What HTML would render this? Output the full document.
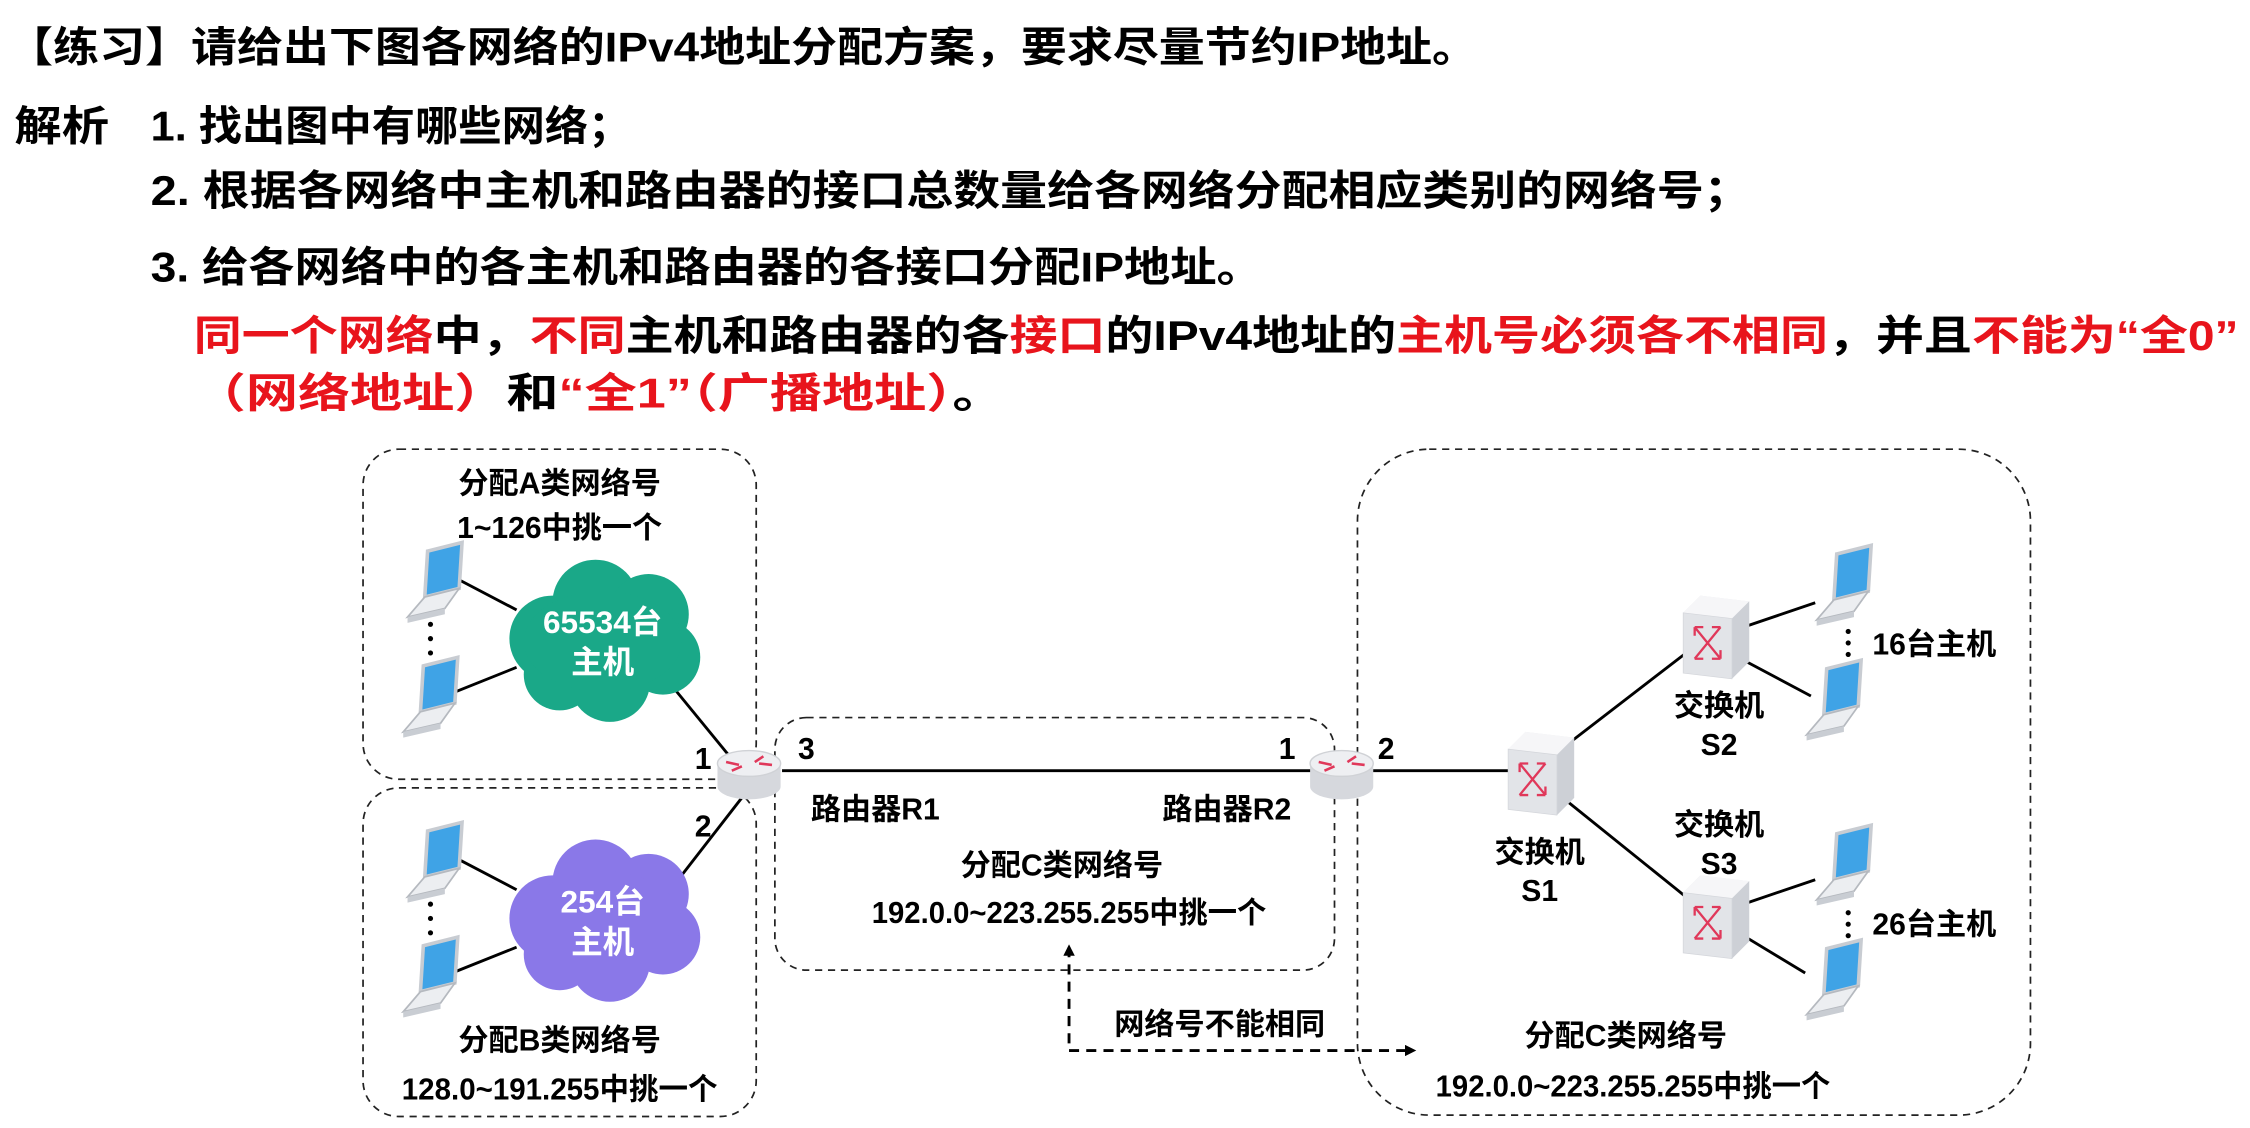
<!DOCTYPE html>
<html><head><meta charset="utf-8"><style>
html,body{margin:0;padding:0;background:#fff;width:2250px;height:1128px;overflow:hidden}
svg{display:block}
text{font-family:"Liberation Sans","Noto Sans CJK SC",sans-serif;font-weight:bold}
</style></head><body>
<svg width="2250" height="1128" viewBox="0 0 1568 786" preserveAspectRatio="none" xmlns="http://www.w3.org/2000/svg">
<defs>
<g id="lap">
  <polygon points="8,-32 32,-38 30,-6 6,0" fill="#3fa3e6" stroke="#c8ccd2" stroke-width="2.5"/>
  <polygon points="6,0 30,-6 20,8 -6,14" fill="#eceef1" stroke="#b5b9bf" stroke-width="1.2"/>
  <polygon points="-6,14 20,8 20,12 -6,18" fill="#c9cdd3"/>
</g>
<g id="sw">
  <polygon points="-22,-18 -10,-30 24,-26 24,16 12,28 -22,24" fill="#e9eaee"/>
  <polygon points="-22,-18 -10,-30 24,-26 12,-14" fill="#f6f6f8"/>
  <polygon points="12,-14 24,-26 24,16 12,28" fill="#cdd0d6"/>
  <polygon points="-22,-18 12,-14 12,28 -22,24" fill="#e2e4e8" stroke="#d4d6db" stroke-width="0.5"/>
  <path d="M-14,-8 L4,14 M-14,14 L4,-8 M-14,-8 l0,6 M-14,-8 l6,0 M4,14 l-6,0 M4,14 l0,-6 M-14,14 l6,0 M4,-8 l-6,0" stroke="#e0385a" stroke-width="1.6" fill="none"/>
</g>
<g id="rt">
  <path d="M-22,-6 L-22,10 A22,9 0 0 0 22,10 L22,-6 Z" fill="#d6d8dd"/>
  <ellipse cx="0" cy="-6" rx="22" ry="9" fill="#eeeff2" stroke="#d0d2d6"/>
  <path d="M-16,-7 l9,2 M-12,-1 l7,-3 M16,-5 l-9,-1 M10,-11 l-6,4" stroke="#e0385a" stroke-width="1.8"/>
</g>
<marker id="ah" markerWidth="8" markerHeight="8" refX="6" refY="4" orient="auto" markerUnits="userSpaceOnUse"><path d="M0,0 L8,4 L0,8 Z" fill="#000"/></marker>
</defs>

<text x="5" y="43" font-size="29" textLength="1025" lengthAdjust="spacingAndGlyphs">【练习】请给出下图各网络的IPv4地址分配方案，要求尽量节约IP地址。</text>
<text x="10" y="98" font-size="29" textLength="66" lengthAdjust="spacingAndGlyphs">解析</text>
<text x="105" y="98" font-size="29" textLength="335" lengthAdjust="spacingAndGlyphs">1. 找出图中有哪些网络；</text>
<text x="105" y="143" font-size="29" textLength="1115" lengthAdjust="spacingAndGlyphs">2. 根据各网络中主机和路由器的接口总数量给各网络分配相应类别的网络号；</text>
<text x="105" y="196" font-size="29" textLength="775" lengthAdjust="spacingAndGlyphs">3. 给各网络中的各主机和路由器的各接口分配IP地址。</text>
<text x="135" y="244" font-size="29" textLength="1425" lengthAdjust="spacingAndGlyphs"><tspan fill="#e8141c">同一个网络</tspan>中，<tspan fill="#e8141c">不同</tspan>主机和路由器的各<tspan fill="#e8141c">接口</tspan>的IPv4地址的<tspan fill="#e8141c">主机号必须各不相同</tspan>，并且<tspan fill="#e8141c">不能为“全0”</tspan></text>
<text x="135" y="284" font-size="29" textLength="565" lengthAdjust="spacingAndGlyphs"><tspan fill="#e8141c">（网络地址）</tspan>和<tspan fill="#e8141c">“全1”（广播地址）</tspan>。</text>

<g fill="none" stroke="#222" stroke-width="1.2" stroke-dasharray="5,4">
<rect x="253" y="313" width="274" height="230" rx="25"/>
<rect x="253" y="549" width="274" height="229" rx="25"/>
<rect x="540" y="500" width="390" height="176" rx="22"/>
<rect x="946" y="313" width="469" height="464" rx="50"/>
</g>

<g stroke="#000" stroke-width="2" fill="none">
<line x1="318" y1="403" x2="360" y2="425"/>
<line x1="315" y1="483" x2="360" y2="465"/>
<line x1="318" y1="598" x2="360" y2="620"/>
<line x1="315" y1="678" x2="360" y2="660"/>
<line x1="470" y1="480" x2="515" y2="535"/>
<line x1="475" y1="610" x2="520" y2="552"/>
<line x1="545" y1="537" x2="915" y2="537"/>
<line x1="955" y1="537" x2="1060" y2="537"/>
<line x1="1088" y1="522" x2="1175" y2="455"/>
<line x1="1088" y1="555" x2="1175" y2="625"/>
<line x1="1215" y1="437" x2="1265" y2="420"/>
<line x1="1215" y1="460" x2="1262" y2="485"/>
<line x1="1215" y1="630" x2="1265" y2="613"/>
<line x1="1215" y1="652" x2="1258" y2="678"/>
</g>
<g stroke="#000" stroke-width="2" fill="none" stroke-dasharray="7,5">
<path d="M745,727 L745,660" marker-end="url(#ah)"/>
<path d="M745,732 L985,732" marker-end="url(#ah)"/>
</g>

<g fill="#1aa888">
<circle cx="385" cy="445" r="30"/><circle cx="415" cy="420" r="30"/><circle cx="452" cy="428" r="28"/>
<circle cx="462" cy="458" r="26"/><circle cx="425" cy="475" r="28"/><circle cx="390" cy="470" r="25"/>
<ellipse cx="420" cy="447" rx="55" ry="35"/>
</g>
<g fill="#8a78e8">
<circle cx="385" cy="640" r="30"/><circle cx="415" cy="615" r="30"/><circle cx="452" cy="623" r="28"/>
<circle cx="462" cy="653" r="26"/><circle cx="425" cy="670" r="28"/><circle cx="390" cy="665" r="25"/>
<ellipse cx="420" cy="642" rx="55" ry="35"/>
</g>
<text x="420" y="441" font-size="22" fill="#fff" text-anchor="middle">65534台</text>
<text x="420" y="469" font-size="22" fill="#fff" text-anchor="middle">主机</text>
<text x="420" y="636" font-size="22" fill="#fff" text-anchor="middle">254台</text>
<text x="420" y="664" font-size="22" fill="#fff" text-anchor="middle">主机</text>

<use href="#lap" x="290" y="416"/>
<use href="#lap" x="287" y="496"/>
<use href="#lap" x="290" y="611"/>
<use href="#lap" x="287" y="691"/>
<use href="#lap" x="1272" y="418"/>
<use href="#lap" x="1265" y="498"/>
<use href="#lap" x="1272" y="613"/>
<use href="#lap" x="1265" y="693"/>
<g fill="#000">
<circle cx="300" cy="435" r="1.8"/><circle cx="300" cy="445" r="1.8"/><circle cx="300" cy="455" r="1.8"/>
<circle cx="300" cy="630" r="1.8"/><circle cx="300" cy="640" r="1.8"/><circle cx="300" cy="650" r="1.8"/>
<circle cx="1288" cy="440" r="1.8"/><circle cx="1288" cy="448" r="1.8"/><circle cx="1288" cy="456" r="1.8"/>
<circle cx="1288" cy="636" r="1.8"/><circle cx="1288" cy="644" r="1.8"/><circle cx="1288" cy="652" r="1.8"/>
</g>

<use href="#rt" x="522" y="538"/>
<use href="#rt" x="935" y="538"/>
<use href="#sw" x="1073" y="540"/>
<use href="#sw" x="1195" y="445"/>
<use href="#sw" x="1195" y="640"/>

<g font-size="21" fill="#000" text-anchor="middle">
<text x="390" y="344">分配A类网络号</text>
<text x="390" y="375">1~126中挑一个</text>
<text x="390" y="732">分配B类网络号</text>
<text x="390" y="766" textLength="220" lengthAdjust="spacingAndGlyphs">128.0~191.255中挑一个</text>
<text x="490" y="536">1</text>
<text x="490" y="583">2</text>
<text x="562" y="529">3</text>
<text x="897" y="529">1</text>
<text x="966" y="529">2</text>
<text x="610" y="571">路由器R1</text>
<text x="855" y="571">路由器R2</text>
<text x="740" y="610">分配C类网络号</text>
<text x="745" y="643" textLength="275" lengthAdjust="spacingAndGlyphs">192.0.0~223.255.255中挑一个</text>
<text x="850" y="721">网络号不能相同</text>
<text x="1073" y="601">交换机</text>
<text x="1073" y="628">S1</text>
<text x="1198" y="499">交换机</text>
<text x="1198" y="526">S2</text>
<text x="1198" y="582">交换机</text>
<text x="1198" y="609">S3</text>
<text x="1348" y="456">16台主机</text>
<text x="1348" y="651">26台主机</text>
<text x="1133" y="729">分配C类网络号</text>
<text x="1138" y="764" textLength="275" lengthAdjust="spacingAndGlyphs">192.0.0~223.255.255中挑一个</text>
</g>
</svg>
</body></html>
